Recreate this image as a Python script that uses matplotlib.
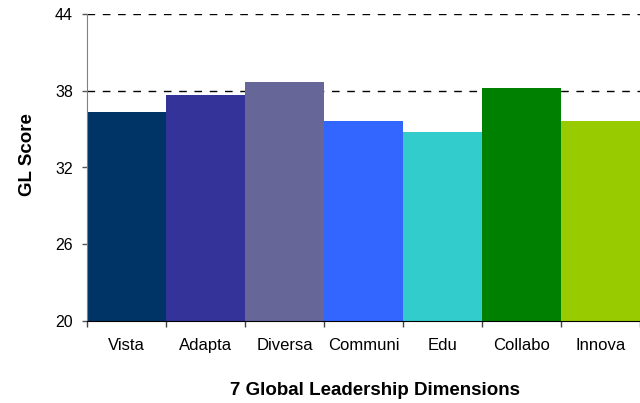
import numpy as np
import matplotlib
matplotlib.use("Agg")
import matplotlib.pyplot as plt

# 7 dimensions and their GL scores
dimensions = ["Vista", "Adapta", "Diversa", "Communi", "Edu", "Collabo", "Innova"]
scores = [36.3, 37.7, 38.7, 35.6, 34.8, 38.2, 35.6]
barColours = ["#003366", "#333399", "#666699", "#3366FF", "#33CCCC", "#008000", "#99CC00"]
yTicks = [20, 26, 32, 38, 44]

plt.rcParams["font.family"] = ["Liberation Sans", "DejaVu Sans"]

fig = plt.figure(figsize=(6.4, 4.03), dpi=100)
ax = fig.add_axes([87 / 640, 1 - 321 / 403, 553 / 640, 307 / 403])

x = np.arange(len(dimensions))
ax.bar(x, scores, width=1.0, color=barColours, zorder=2)

ax.set_xlim(-0.5, len(dimensions) - 0.5)
ax.set_ylim(20, 44)
ax.set_yticks(yTicks)
ax.tick_params(axis="y", labelsize=11.5, length=3.6, width=1, color="#555555", pad=6.5)

# category labels centred, ticks at the bar edges
ax.set_xticks(x)
ax.set_xticklabels(dimensions, fontsize=12)
ax.tick_params(axis="x", length=0, pad=12)
ax.set_xticks(np.arange(len(dimensions) + 1) - 0.5, minor=True)
ax.tick_params(axis="x", which="minor", length=4.3, width=1, color="#444444")

ax.yaxis.grid(True, linestyle=(0, (5.5, 5.5)), color="black", linewidth=1, zorder=0)
ax.set_axisbelow(True)

ax.spines["top"].set_visible(False)
ax.spines["right"].set_visible(False)
ax.spines["left"].set_color("#808080")
ax.spines["bottom"].set_color("black")

ax.set_ylabel("GL Score", fontsize=13.5, fontweight="bold")
ax.set_xlabel("7 Global Leadership Dimensions", fontsize=13.5, fontweight="bold")
ax.yaxis.set_label_coords(-0.092, 0.541)
ax.xaxis.set_label_coords(0.521, -0.2)

fig.savefig("out.png", dpi=100)
